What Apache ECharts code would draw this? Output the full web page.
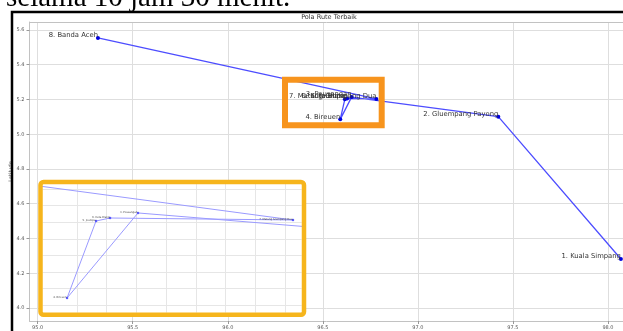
<!DOCTYPE html>
<html>
<head>
<meta charset="utf-8">
<script src="https://cdn.jsdelivr.net/npm/echarts@6/dist/echarts.min.js"></script>
<style>
  html, body { margin: 0; padding: 0; background: #fff; }
  #chart { width: 623px; height: 331px; }
</style>
</head>
<body>
<div id="chart"></div>
<script>
  // stops in route order (lon / lat)
  var stops = ['1. Kuala Simpang', '2. Gluempang Payong', '3. Peusangan', '4. Bireuen',
    '5. Jeumpa', '6. Kuta Blang', '7. Matang Glumpang Dua', '8. Banda Aceh']
  var lon = [98.068, 97.423, 96.6513, 96.5916, 96.6160, 96.6278, 96.7818, 95.317]
  var lat = [4.282, 5.101, 5.2139, 5.0858, 5.2018, 5.2063, 5.2033, 5.554]

  // tick labels of the main plot
  var xTicks = [95.0, 95.5, 96.0, 96.5, 97.0, 97.5, 98.0]
  var yTicks = [4.0, 4.2, 4.4, 4.6, 4.8, 5.0, 5.2, 5.4, 5.6]
  // grid lines of the zoomed inset
  var zoomXTicks = [96.6, 96.625, 96.65, 96.675, 96.7, 96.725, 96.75, 96.775]
  var zoomYTicks = [5.075, 5.1, 5.125, 5.15, 5.175, 5.2, 5.225, 5.25]

  var route = lon.map(function (x, i) { return [x, lat[i], stops[i]] })

  var spine = '#c2c2c2'
  var grid = '#dedede'
  var fmt = function (v) { return v.toFixed(1) }

  var chart = echarts.init(document.getElementById('chart'))
  chart.setOption({
    animation: false,
    grid: [
      { left: 29.5, top: 22, right: -6, bottom: 10, outerBoundsMode: 'none', containLabel: false },
      { left: 42.7, top: 184, width: 259, height: 128.7, outerBoundsMode: 'none', containLabel: false }
    ],
    xAxis: [
      {
        gridIndex: 0, type: 'value', min: 94.957, max: 98.1106,
        axisLine: { show: true, lineStyle: { color: spine } },
        axisTick: { show: true, length: 3, customValues: xTicks, lineStyle: { color: '#999' } },
        axisLabel: { customValues: xTicks, formatter: fmt, fontSize: 5, color: '#555', margin: 4, fontFamily: 'DejaVu Sans' },
        splitLine: { show: true, lineStyle: { color: grid, width: 1 } }
      },
      {
        // top spine
        gridIndex: 0, type: 'value', position: 'top', min: 94.957, max: 98.1106,
        axisLine: { show: true, lineStyle: { color: spine } },
        axisTick: { show: false }, axisLabel: { show: false }, splitLine: { show: false }
      },
      {
        gridIndex: 1, type: 'value', min: 96.5711, max: 96.7891, z: 9,
        axisLine: { show: false },
        axisTick: { show: false, customValues: zoomXTicks },
        axisLabel: { show: false },
        splitLine: { show: true, lineStyle: { color: '#e6e6e6', width: 1 } }
      }
    ],
    yAxis: [
      {
        gridIndex: 0, type: 'value', min: 3.9252, max: 5.646,
        name: 'Latitude', nameLocation: 'middle', nameGap: 16, nameRotate: 90, nameMoveOverlap: false,
        nameTextStyle: { fontSize: 5, color: '#555', fontFamily: 'DejaVu Sans' },
        axisLine: { show: true, lineStyle: { color: spine } },
        axisTick: { show: true, length: 3, customValues: yTicks, lineStyle: { color: '#999' } },
        axisLabel: { customValues: yTicks, formatter: fmt, fontSize: 5, color: '#555', margin: 5, fontFamily: 'DejaVu Sans' },
        splitLine: { show: true, lineStyle: { color: grid, width: 1 } }
      },
      {
        gridIndex: 1, type: 'value', min: 5.0637, max: 5.2575, z: 9,
        axisLine: { show: false },
        axisTick: { show: false, customValues: zoomYTicks },
        axisLabel: { show: false },
        splitLine: { show: true, lineStyle: { color: '#e6e6e6', width: 1 } }
      }
    ],
    series: [
      {
        type: 'line', xAxisIndex: 0, yAxisIndex: 0, data: route, z: 3,
        symbol: 'circle', symbolSize: 4,
        lineStyle: { color: '#4d4dff', width: 1.3 },
        itemStyle: { color: '#0000e0' },
        label: {
          show: true, formatter: function (p) { return p.data[2] },
          position: [2, 2], align: 'right', verticalAlign: 'middle', offset: [0, -2.5],
          fontSize: 6.8, color: '#333', fontFamily: 'DejaVu Sans'
        }
      },
      {
        type: 'line', xAxisIndex: 2, yAxisIndex: 1, data: route, z: 10, clip: true,
        symbol: 'circle', symbolSize: 2.5,
        lineStyle: { color: '#9a9aff', width: 1 },
        itemStyle: { color: '#5a5aff' },
        label: {
          show: true, formatter: function (p) { return p.data[2] },
          position: [1.25, 1.25], align: 'right', verticalAlign: 'middle', offset: [-0.5, -1],
          fontSize: 2.6, color: '#444', fontFamily: 'DejaVu Sans'
        }
      }
    ],
    graphic: [
      { type: 'rect', z: 5, shape: { x: 40.5, y: 182, width: 263.5, height: 132.7 }, style: { fill: '#fff' } },
      { type: 'rect', z: 20, shape: { x: 40.5, y: 182, width: 263.5, height: 132.7, r: 3 },
        style: { fill: null, stroke: '#f6b51c', lineWidth: 4.5 } },
      { type: 'rect', z: 20, shape: { x: 285, y: 79.7, width: 96.7, height: 45.6 },
        style: { fill: null, stroke: '#f7941d', lineWidth: 6 } },
      { type: 'rect', z: 20, shape: { x: 12, y: 12, width: 700, height: 400 },
        style: { fill: null, stroke: '#000', lineWidth: 2.5 } },
      { type: 'text', z: 20, x: 329, y: 17,
        style: { text: 'Pola Rute Terbaik', fontSize: 6.5, fontFamily: 'DejaVu Sans', fill: '#333', align: 'center', verticalAlign: 'middle' } },
      { type: 'text', z: 20, x: 6, y: -2,
        style: { text: 'selama 10 jam 30 menit.', fontSize: 29, fontFamily: 'Liberation Serif', fill: '#000', align: 'left', verticalAlign: 'middle' } }
    ]
  })
</script>
</body>
</html>
